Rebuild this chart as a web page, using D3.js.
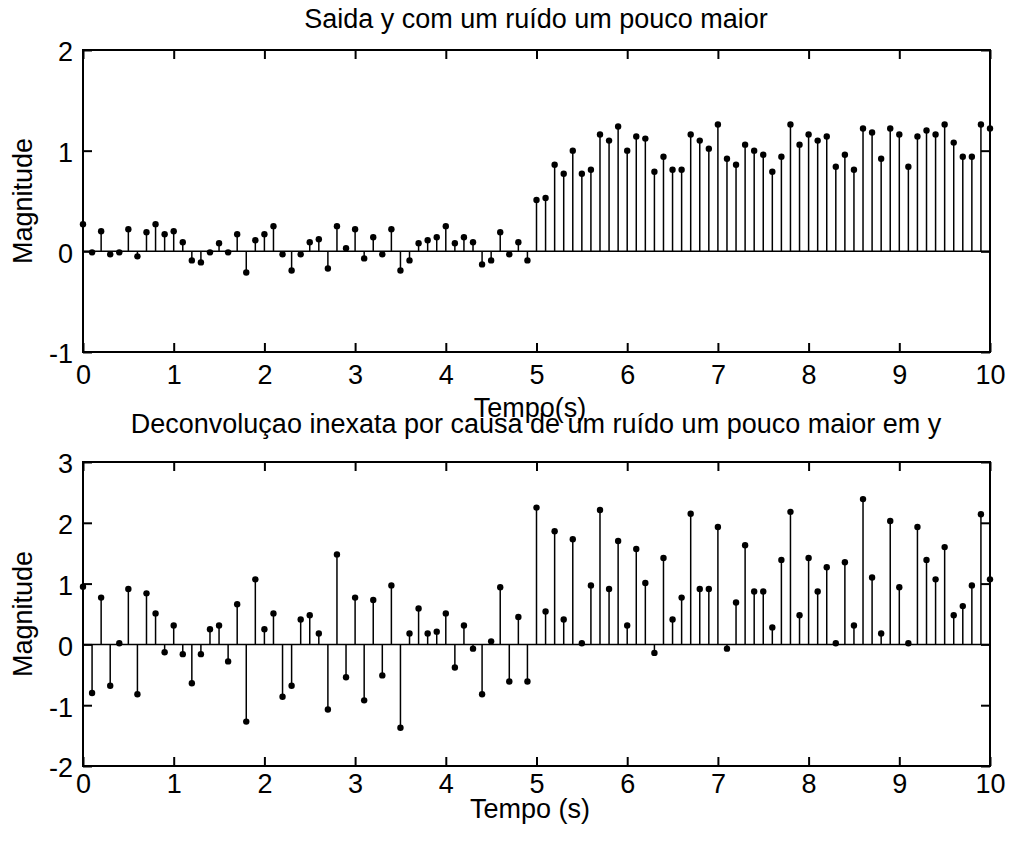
<!DOCTYPE html>
<html>
<head>
<meta charset="utf-8">
<script src="https://cdn.jsdelivr.net/npm/d3@7"></script>
<style>
  body { margin: 0; background: #fff; }
  svg { display: block; font-family: "Liberation Sans", Arial, sans-serif; }
</style>
</head>
<body>
<div id="chart"></div>
<script>
const width = 1010,
      height = 841;

// sample times, 0 to 10 s every 0.1 s
const sampleTimes = d3.range(101).map(i => i / 10);

const outputValues = [
  0.27, -0.01, 0.20, -0.03, -0.01, 0.22, -0.05, 0.19, 0.27, 0.17,
  0.20, 0.09, -0.09, -0.11, -0.01, 0.08, -0.01, 0.17, -0.21, 0.11,
  0.17, 0.25, -0.03, -0.19, -0.03, 0.09, 0.12, -0.17, 0.25, 0.03,
  0.22, -0.07, 0.14, -0.03, 0.22, -0.19, -0.09, 0.08, 0.11, 0.14,
  0.25, 0.08, 0.14, 0.09, -0.13, -0.09, 0.19, -0.03, 0.09, -0.09,
  0.51, 0.53, 0.86, 0.77, 1.00, 0.77, 0.81, 1.16, 1.10, 1.24,
  1.00, 1.14, 1.12, 0.79, 0.94, 0.81, 0.81, 1.16, 1.10, 1.02,
  1.26, 0.92, 0.86, 1.06, 1.00, 0.96, 0.79, 0.94, 1.26, 1.06,
  1.16, 1.10, 1.14, 0.84, 0.96, 0.81, 1.22, 1.18, 0.92, 1.22,
  1.16, 0.84, 1.14, 1.20, 1.16, 1.26, 1.08, 0.94, 0.94, 1.26,
  1.22
];

const deconvValues = [
  0.95, -0.80, 0.77, -0.68, 0.02, 0.91, -0.82, 0.84, 0.51, -0.13,
  0.31, -0.16, -0.64, -0.16, 0.25, 0.31, -0.28, 0.66, -1.27, 1.07,
  0.25, 0.51, -0.86, -0.68, 0.41, 0.48, 0.18, -1.07, 1.48, -0.54,
  0.77, -0.92, 0.73, -0.51, 0.97, -1.37, 0.18, 0.59, 0.18, 0.21,
  0.51, -0.38, 0.31, -0.07, -0.82, 0.05, 0.94, -0.61, 0.45, -0.61,
  2.25, 0.54, 1.86, 0.41, 1.73, 0.02, 0.97, 2.21, 0.91, 1.70,
  0.31, 1.57, 1.01, -0.14, 1.42, 0.41, 0.77, 2.15, 0.91, 0.91,
  1.93, -0.07, 0.69, 1.63, 0.87, 0.87, 0.28, 1.39, 2.18, 0.48,
  1.42, 0.87, 1.27, 0.02, 1.35, 0.31, 2.39, 1.10, 0.18, 2.03,
  0.94, 0.02, 1.93, 1.39, 1.07, 1.60, 0.48, 0.63, 0.97, 2.14,
  1.07
];

const xTicks = [0, 1, 2, 3, 4, 5, 6, 7, 8, 9, 10];
const outputYTicks = [-1, 0, 1, 2];
const deconvYTicks = [-2, -1, 0, 1, 2, 3];

const svg = d3.select('#chart').append('svg')
    .attr('width', width)
    .attr('height', height);

const fontSize = '27px';

function drawStemPanel(opts) {
    const { values, yDomain, yTicks, top, bottom, title, xLabel, titleY, xLabelY, yLabelX, xPad } = opts;
    const left = 83, right = 990;

    const x = d3.scaleLinear().domain([0, 10]).range([left, right]);
    const y = d3.scaleLinear().domain(yDomain).range([bottom, top]);

    const g = svg.append('g');

    // axes, ticks inward on all sides (matlab style)
    g.append('g')
        .attr('transform', `translate(0,${bottom})`)
        .call(d3.axisBottom(x).tickValues(xTicks).tickSize(-9).tickSizeOuter(0)
            .tickPadding(xPad).tickFormat(d => String(d)));
    g.append('g')
        .attr('transform', `translate(0,${top})`)
        .call(d3.axisTop(x).tickValues(xTicks).tickSize(-9).tickSizeOuter(0).tickFormat(''));
    const leftAxis = g.append('g')
        .attr('transform', `translate(${left},0)`)
        .call(d3.axisLeft(y).tickValues(yTicks).tickSize(-9).tickSizeOuter(0)
            .tickPadding(10).tickFormat(d => String(d)));
    g.append('g')
        .attr('transform', `translate(${right},0)`)
        .call(d3.axisRight(y).tickValues(yTicks).tickSize(-9).tickSizeOuter(0).tickFormat(''));

    g.selectAll('.domain').remove();
    g.selectAll('.tick line').attr('stroke', '#000').attr('stroke-width', 2);
    g.selectAll('.tick text')
        .attr('fill', '#000')
        .style('font-size', fontSize);
    leftAxis.selectAll('.tick text').attr('dy', '0.4em');

    // zero baseline
    g.append('line')
        .attr('x1', x(0)).attr('x2', x(10))
        .attr('y1', y(0)).attr('y2', y(0))
        .attr('stroke', '#000')
        .attr('stroke-width', 1.5);

    const stems = g.selectAll('g.stem')
        .data(values.map((v, i) => ({ t: sampleTimes[i], v })))
        .enter().append('g')
        .attr('class', 'stem');

    stems.append('line')
        .attr('x1', d => x(d.t)).attr('x2', d => x(d.t))
        .attr('y1', y(0)).attr('y2', d => y(d.v))
        .attr('stroke', '#000')
        .attr('stroke-width', 1.5);

    stems.append('circle')
        .attr('cx', d => x(d.t))
        .attr('cy', d => y(d.v))
        .attr('r', 3.2)
        .attr('fill', '#000');

    // box
    g.append('rect')
        .attr('x', left).attr('y', top)
        .attr('width', right - left).attr('height', bottom - top)
        .attr('fill', 'none')
        .attr('stroke', '#000')
        .attr('stroke-width', 2);

    g.append('text')
        .attr('x', 536).attr('y', titleY)
        .attr('text-anchor', 'middle')
        .style('font-size', fontSize)
        .text(title);

    g.append('text')
        .attr('x', 530).attr('y', xLabelY)
        .attr('text-anchor', 'middle')
        .style('font-size', fontSize)
        .text(xLabel);

    g.append('text')
        .attr('transform', `translate(${yLabelX},${(top + bottom) / 2}) rotate(-90)`)
        .attr('text-anchor', 'middle')
        .style('font-size', fontSize)
        .text('Magnitude');
}

drawStemPanel({
    values: outputValues,
    yDomain: [-1, 2],
    yTicks: outputYTicks,
    top: 50,
    bottom: 352,
    title: 'Saida y com um ruído um pouco maior',
    xLabel: 'Tempo(s)',
    titleY: 28,
    xLabelY: 417,
    yLabelX: 32,
    xPad: 13
});

drawStemPanel({
    values: deconvValues,
    yDomain: [-2, 3],
    yTicks: deconvYTicks,
    top: 462,
    bottom: 766,
    title: 'Deconvoluçao inexata por causa de um ruído um pouco maior em y',
    xLabel: 'Tempo (s)',
    titleY: 433,
    xLabelY: 818,
    yLabelX: 32,
    xPad: 8
});
</script>
</body>
</html>
